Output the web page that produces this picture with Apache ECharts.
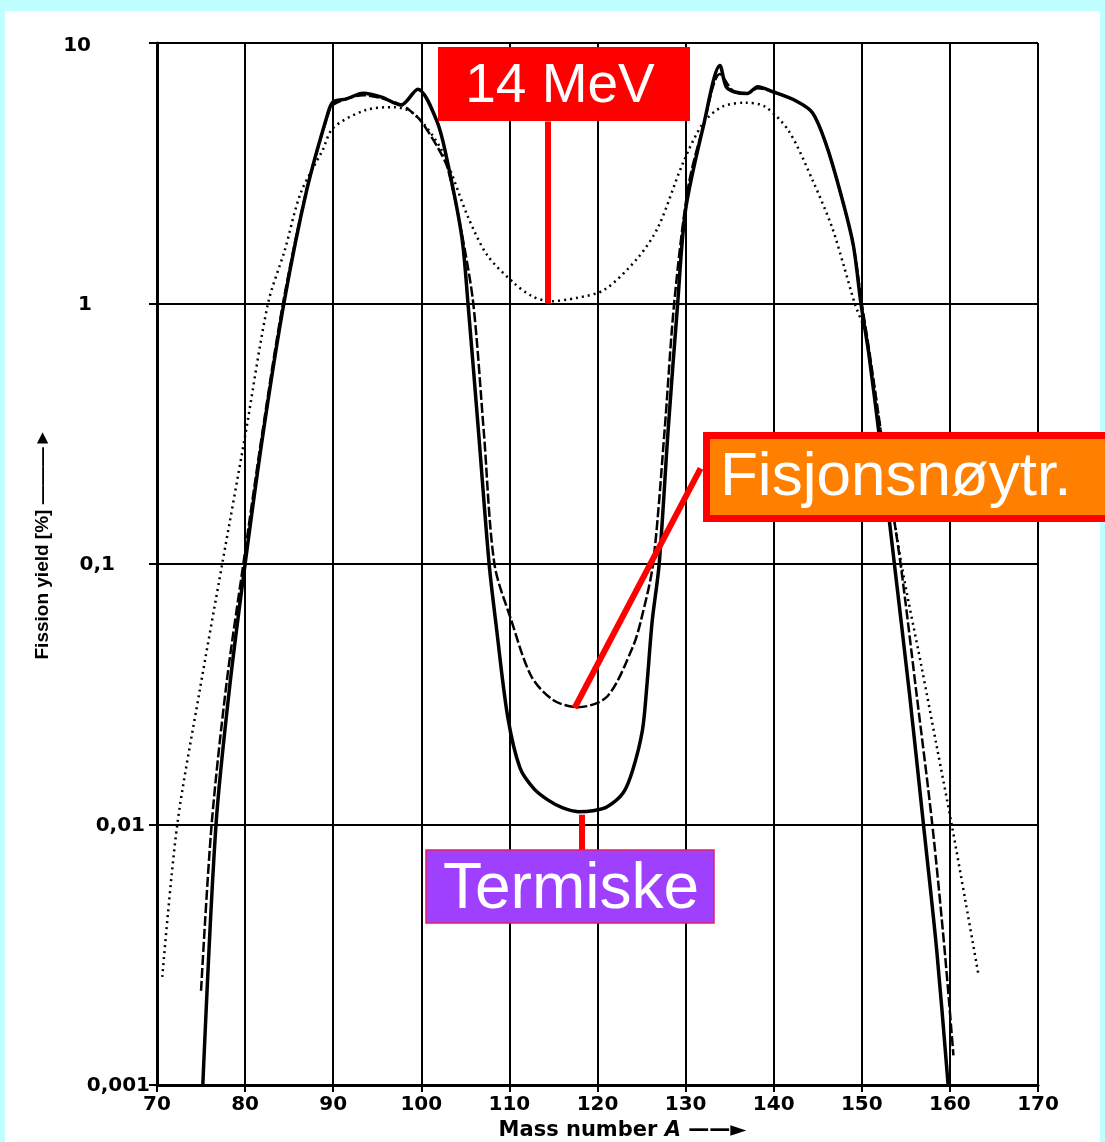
<!DOCTYPE html>
<html>
<head>
<meta charset="utf-8">
<title>Fission yield</title>
<script src="https://cdn.jsdelivr.net/npm/echarts@6/dist/echarts.min.js"></script>
<style>
  html, body { margin: 0; padding: 0; background: #bfffff; }
  #paper { position: absolute; left: 5px; top: 11px; width: 1095px; height: 1131px; background: #fff; }
  #chart { position: absolute; left: 0; top: 0; width: 1105px; height: 1142px; }
</style>
</head>
<body>
<div id="paper"></div>
<div id="chart"></div>
<script>
// tick labels
const xTicks = [70, 80, 90, 100, 110, 120, 130, 140, 150, 160, 170]
const xTickLabels = ['70', '80', '90', '100', '110', '120', '130', '140', '150', '160', '170']
const yTickLabels = ['0,001', '0,01', '0,1', '1', '10']

// thermal neutrons (solid)
const thermalA = [75.2, 76.7, 78.3, 80.0, 82.0, 84.4, 87.0, 89.4, 90.0, 91.5, 93.4, 95.5, 97.7, 99.6,
  101.8, 103.0, 104.6, 105.3, 106.5, 107.7, 108.5, 109.8, 111.2, 112.8, 114.4, 116.0, 117.8, 119.5,
  121.1, 122.9, 124.0, 125.1, 125.6, 126.2, 127.0, 128.0, 129.1, 130.0, 132.0, 133.9, 134.6, 135.5,
  137.0, 138.2, 139.9, 142.5, 144.4, 145.9, 147.4, 149.0, 149.9, 150.8, 152.2, 153.7, 155.4, 157.0,
  158.5, 159.8]
const thermalY = [0.001, 0.01, 0.035, 0.1, 0.31, 1.0, 2.73, 5.38, 5.94, 6.1, 6.42, 6.2, 5.78, 6.65,
  4.98, 3.46, 1.8, 1.0, 0.32, 0.1, 0.058, 0.026, 0.0165, 0.0137, 0.0124, 0.0116, 0.0112, 0.0113,
  0.0117, 0.0132, 0.0162, 0.023, 0.034, 0.06, 0.1, 0.32, 1.0, 2.29, 4.77, 8.2, 6.8, 6.5,
  6.4, 6.8, 6.5, 6.0, 5.4, 4.13, 2.8, 1.7, 1.0, 0.64, 0.27, 0.1, 0.032, 0.01,
  0.0033, 0.001]

// fission neutrons (dashed)
const fissionA = [75.0, 76.2, 77.9, 79.8, 81.9, 84.3, 87.0, 89.4, 90.0, 93.4, 97.7, 99.0, 100.0,
  102.0, 103.0, 104.6, 105.9, 107.1, 108.3, 110.2, 112.5, 115.0, 117.8, 121.1, 124.0, 125.0, 126.3,
  127.6, 128.7, 130.3, 132.0, 133.9, 135.5, 137.0, 138.2, 139.9, 142.5, 144.4, 145.9, 147.4, 149.0,
  150.0, 150.9, 152.5, 154.4, 156.2, 158.0, 159.4, 160.4]
const fissionY = [0.0023, 0.01, 0.035, 0.1, 0.31, 1.0, 2.75, 5.3, 5.8, 6.3, 5.8, 5.4, 5.0,
  3.9, 3.3, 1.85, 1.0, 0.32, 0.1, 0.061, 0.037, 0.030, 0.0282, 0.031, 0.048, 0.062, 0.1,
  0.32, 1.0, 2.8, 4.77, 7.6, 6.5, 6.4, 6.7, 6.5, 6.0, 5.4, 4.13, 2.8, 1.7,
  1.0, 0.64, 0.27, 0.1, 0.032, 0.01, 0.0033, 0.0013]

// 14 MeV neutrons (dotted)
const mev14A = [70.6, 72.3, 74.8, 77.4, 80.0, 82.6, 84.5, 86.3, 88.8, 90.0, 93.7, 97.0, 99.3,
  102.3, 105.3, 107.5, 110.5, 112.5, 114.6, 117.6, 120.8, 124.6, 126.9, 129.7, 132.0, 134.2, 136.8,
  139.0, 141.7, 144.4, 146.6, 148.0, 149.2, 150.4, 152.3, 154.5, 156.8, 158.5, 160.2, 161.8, 163.2]
const mev14Y = [0.0026, 0.01, 0.032, 0.1, 0.31, 1.0, 1.6, 2.65, 3.88, 4.72, 5.53, 5.67, 5.3,
  3.88, 2.15, 1.53, 1.2, 1.07, 1.02, 1.05, 1.13, 1.5, 1.97, 3.46, 4.93, 5.7, 5.9,
  5.7, 4.6, 2.98, 1.97, 1.38, 1.0, 0.77, 0.3, 0.1, 0.04, 0.02, 0.01, 0.005, 0.0027]

// callout pointer lines (data coordinates)
const mevPointer = [[114.3, 1.0], [114.3, 5.0]]
const fissionPointer = [[117.4, 0.028], [131.7, 0.233]]
const thermalPointer = [[118.2, 0.0109], [118.2, 0.0078]]

const pairs = (xs, ys) => xs.map((a, i) => [a, ys[i]])
const seg = p => [{ coord: p[0] }, { coord: p[1] }]

const chart = echarts.init(document.getElementById('chart'))

const tickFont = { color: '#000', fontFamily: 'DejaVu Sans', fontWeight: 'bold', fontSize: 20 }
// label right padding per decade (labels in the scan sit at uneven distances)
const yLabelPad = [1, 6, 36, 59, 60]
const yRich = {}
yLabelPad.forEach((p, i) => {
  yRich['t' + i] = Object.assign({ padding: [i === 4 ? 6 : 2, p, 0, 0] }, tickFont)
})

const option = {
  animation: false,
  backgroundColor: 'transparent',
  grid: { left: 157, right: 67, top: 43, bottom: 57, outerBoundsMode: 'none', containLabel: false },
  xAxis: {
    type: 'value',
    min: 70,
    max: 170,
    interval: 10,
    name: '{n|Mass number }{i|A}{n| ——►}',
    nameLocation: 'middle',
    nameGap: 29,
    nameTextStyle: {
      padding: [0, 0, 0, 50],
      rich: {
        n: { color: '#000', fontFamily: 'DejaVu Sans', fontWeight: 'bold', fontSize: 21 },
        i: { color: '#000', fontFamily: 'DejaVu Sans', fontWeight: 'bold', fontStyle: 'italic', fontSize: 21 }
      }
    },
    axisLine: { lineStyle: { color: '#000', width: 3 } },
    axisTick: { length: 7, lineStyle: { color: '#000', width: 2 } },
    axisLabel: Object.assign({
      margin: 10,
      formatter: v => xTickLabels[xTicks.indexOf(v)]
    }, tickFont),
    splitLine: { show: true, lineStyle: { color: '#000', width: 2 } }
  },
  yAxis: {
    type: 'log',
    logBase: 10,
    min: 0.001,
    max: 10,
    splitNumber: 4,
    name: 'Fission yield [%] ———►',
    nameLocation: 'middle',
    nameGap: 72,
    nameRotate: 90,
    nameTextStyle: {
      color: '#000',
      fontFamily: 'Liberation Sans',
      fontWeight: 'bold',
      fontSize: 19,
      padding: [0, 0, 0, 40]
    },
    axisLine: { show: true, lineStyle: { color: '#000', width: 3 } },
    axisTick: { show: true, length: 8, lineStyle: { color: '#000', width: 2 } },
    axisLabel: {
      margin: 6,
      formatter: v => {
        const i = Math.round(Math.log10(v)) + 3
        return '{t' + i + '|' + yTickLabels[i] + '}'
      },
      rich: yRich
    },
    splitLine: { show: true, lineStyle: { color: '#000', width: 2 } }
  },
  series: [
    {
      name: '14 MeV',
      type: 'line',
      data: pairs(mev14A, mev14Y),
      symbol: 'none',
      smooth: 0.3,
      lineStyle: { color: '#000', width: 2.5, type: [2, 4] },
      z: 3
    },
    {
      name: 'Fisjonsnøytr.',
      type: 'line',
      data: pairs(fissionA, fissionY),
      symbol: 'none',
      smooth: 0.3,
      lineStyle: { color: '#000', width: 2.5, type: [10, 3] },
      z: 3
    },
    {
      name: 'Termiske',
      type: 'line',
      data: pairs(thermalA, thermalY),
      symbol: 'none',
      smooth: 0.3,
      lineStyle: { color: '#000', width: 3.5 },
      z: 4,
      markLine: {
        silent: true,
        symbol: ['none', 'none'],
        label: { show: false },
        lineStyle: { color: '#ff0000', width: 6, type: 'solid' },
        data: [seg(mevPointer), seg(fissionPointer), seg(thermalPointer)]
      }
    }
  ],
  graphic: [
    // 14 MeV callout
    { type: 'rect', z: 100, shape: { x: 438, y: 47, width: 252, height: 74 }, style: { fill: '#ff0000' } },
    {
      type: 'text', z: 101, x: 560, y: 87,
      style: {
        text: '14 MeV', fill: '#fff', font: '55px "Liberation Sans"',
        align: 'center', verticalAlign: 'middle', textAlign: 'center', textVerticalAlign: 'middle'
      }
    },
    // fission neutrons callout
    {
      type: 'rect', z: 100, shape: { x: 706.5, y: 435.5, width: 420, height: 83 },
      style: { fill: '#ff8000', stroke: '#ff0000', lineWidth: 7 }
    },
    {
      type: 'text', z: 101, x: 720, y: 478,
      style: {
        text: 'Fisjonsnøytr.', fill: '#fff', font: '62px "Liberation Sans"',
        align: 'left', verticalAlign: 'middle', textAlign: 'left', textVerticalAlign: 'middle'
      }
    },
    // thermal callout
    {
      type: 'rect', z: 100, shape: { x: 426, y: 850, width: 288, height: 73 },
      style: { fill: '#a040ff', stroke: '#e0206a', lineWidth: 1.5 }
    },
    {
      type: 'text', z: 101, x: 571, y: 890,
      style: {
        text: 'Termiske', fill: '#fff', font: '64px "Liberation Sans"',
        align: 'center', verticalAlign: 'middle', textAlign: 'center', textVerticalAlign: 'middle'
      }
    }
  ]
}

chart.setOption(option)
</script>
</body>
</html>
